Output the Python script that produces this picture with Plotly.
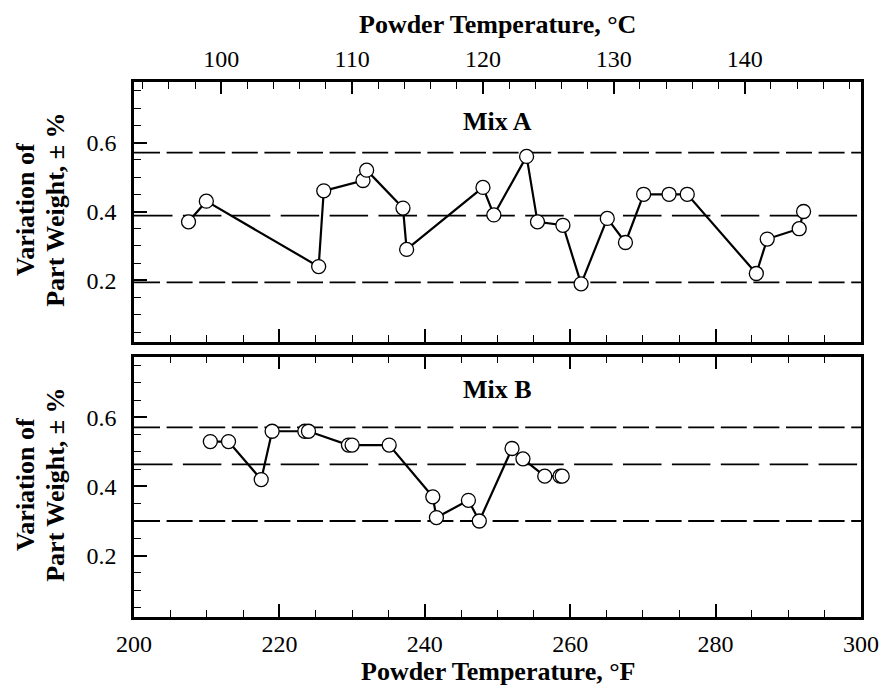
import plotly.graph_objects as go

# ---------------- data ----------------
mixA_tempF = [207.5, 209.95, 225.4, 226.1, 231.5, 232.0, 237.0, 237.5, 248.0, 249.5,
              254.0, 255.5, 259.0, 261.5, 265.1, 267.6, 270.1, 273.6, 276.1, 285.6,
              287.1, 291.5, 292.1]
mixA_var = [0.37, 0.43, 0.24, 0.46, 0.49, 0.52, 0.41, 0.29, 0.47, 0.39,
            0.56, 0.37, 0.36, 0.19, 0.38, 0.31, 0.45, 0.45, 0.45, 0.22,
            0.32, 0.35, 0.40]

mixB_tempF = [210.5, 213.0, 217.5, 219.0, 223.5, 224.0, 229.5, 230.0, 235.1, 241.1,
              241.6, 246.0, 247.5, 252.0, 253.5, 256.5, 258.6, 258.9]
mixB_var = [0.53, 0.53, 0.42, 0.56, 0.56, 0.56, 0.52, 0.52, 0.52, 0.37,
            0.31, 0.36, 0.30, 0.51, 0.48, 0.43, 0.43, 0.43]

mixA_limits = [0.571, 0.388, 0.194]   # upper, mean, lower
mixB_limits = [0.571, 0.464, 0.300]

x_range_F = [200, 300]
y_range = [0.022, 0.776]
y_ticks = [0.2, 0.4, 0.6]
panel_labels = ["Mix A", "Mix B"]

FONT = "'Liberation Serif', 'Times New Roman', Times, 'DejaVu Serif', serif"
BLACK = "#000000"

def f_to_c(f):
    return (f - 32.0) / 1.8

fig = go.Figure()

def add_limits(limits, xa, ya):
    styles = ["26px,6.6px", "38.5px,10.4px", "26px,6.6px"]
    for val, dash in zip(limits, styles):
        fig.add_trace(go.Scatter(
            x=x_range_F, y=[val, val], mode="lines",
            line=dict(color=BLACK, width=1.8, dash=dash),
            xaxis=xa, yaxis=ya, hoverinfo="skip", showlegend=False))

add_limits(mixA_limits, "x", "y")
add_limits(mixB_limits, "x2", "y2")

marker = dict(symbol="circle", size=14, color="white", line=dict(color=BLACK, width=1.3))
fig.add_trace(go.Scatter(x=mixA_tempF, y=mixA_var, mode="lines+markers",
                         line=dict(color=BLACK, width=2.2), marker=marker,
                         xaxis="x", yaxis="y", showlegend=False, cliponaxis=False))
fig.add_trace(go.Scatter(x=mixB_tempF, y=mixB_var, mode="lines+markers",
                         line=dict(color=BLACK, width=2.2), marker=marker,
                         xaxis="x2", yaxis="y2", showlegend=False, cliponaxis=False))
# invisible trace to carry the Celsius axis
fig.add_trace(go.Scatter(x=[f_to_c(v) for v in mixA_tempF], y=mixA_var, mode="markers",
                         marker=dict(opacity=0), xaxis="x3", yaxis="y",
                         hoverinfo="skip", showlegend=False))

tickfont = dict(family=FONT, size=24, color=BLACK)
common_x = dict(range=x_range_F, showgrid=False, zeroline=False, showline=True,
                linecolor=BLACK, linewidth=2.5, ticks="inside", ticklen=13, tickwidth=1.5,
                tickcolor=BLACK, dtick=20, tick0=200, tickfont=tickfont,
                minor=dict(ticks="inside", ticklen=7, tickwidth=1.3, dtick=5, tickcolor=BLACK))
common_y = dict(range=y_range, showgrid=False, zeroline=False, showline=True, mirror=True,
                linecolor=BLACK, linewidth=2.5, ticks="inside", ticklen=13, tickwidth=1.5,
                tickcolor=BLACK, tickvals=y_ticks, ticktext=[f"{v:.1f}" for v in y_ticks],
                tickfont=tickfont, ticklabelstandoff=10,
                minor=dict(ticks="inside", ticklen=7, tickwidth=1.3, dtick=0.05, tick0=0,
                           tickcolor=BLACK))

fig.update_layout(
    width=891, height=693,
    margin=dict(l=134, r=23, t=82, b=76),
    paper_bgcolor="white", plot_bgcolor="white",
    font=dict(family=FONT, color=BLACK),
    xaxis=dict(**common_x, anchor="y", showticklabels=False, mirror=False),
    yaxis=dict(**common_y, domain=[0.5146, 1.0], anchor="x"),
    xaxis2=dict(**common_x, anchor="y2", showticklabels=True, mirror="ticks",
                ticklabelstandoff=3),
    yaxis2=dict(**common_y, domain=[0.0, 0.4866], anchor="x2"),
    xaxis3=dict(range=[f_to_c(x_range_F[0]), f_to_c(x_range_F[1])], overlaying="x",
                anchor="y", side="top", showgrid=False, zeroline=False, showline=True,
                linecolor=BLACK, linewidth=2.5, ticks="inside", ticklen=12, tickwidth=1.5,
                tickcolor=BLACK, dtick=10, tick0=100, tickfont=tickfont, ticklabelstandoff=3,
                minor=dict(ticks="inside", ticklen=7, tickwidth=1.3, dtick=2,
                           tickcolor=BLACK)),
)

bold = dict(family=FONT, size=26, color=BLACK)
ann = []
ann.append(dict(text="<b>Mix A</b>", x=250, y=0.661, xref="x", yref="y",
                showarrow=False, font=bold, xanchor="center", yanchor="middle"))
ann.append(dict(text="<b>Mix B</b>", x=250, y=0.680, xref="x2", yref="y2",
                showarrow=False, font=bold, xanchor="center", yanchor="middle"))

H_PLOT = 693 - 82 - 76
W_PLOT = 891 - 134 - 23
def py(p):
    return (617 - p) / H_PLOT
def px(p):
    return (p - 134) / W_PLOT

ann.append(dict(text="<b>Powder Temperature, °C</b>", x=0.5, y=py(24), xref="paper",
                yref="paper", showarrow=False, font=bold, xanchor="center", yanchor="middle"))
ann.append(dict(text="<b>Powder Temperature, °F</b>", x=0.5, y=py(671), xref="paper",
                yref="paper", showarrow=False, font=bold, xanchor="center", yanchor="middle"))
for center in (210, 485):
    ann.append(dict(text="<b>Variation of</b>", x=px(24), y=py(center), xref="paper",
                    yref="paper", showarrow=False, font=bold, textangle=-90,
                    xanchor="center", yanchor="middle"))
    ann.append(dict(text="<b>Part Weight, ± %</b>", x=px(54), y=py(center), xref="paper",
                    yref="paper", showarrow=False, font=bold, textangle=-90,
                    xanchor="center", yanchor="middle"))
fig.update_layout(annotations=ann)

fig.write_html("out.html")
